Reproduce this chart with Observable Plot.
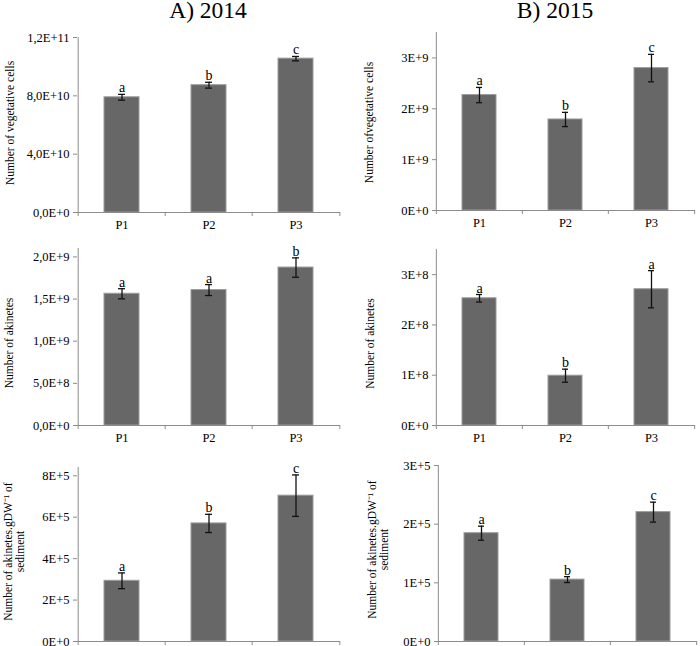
<!DOCTYPE html>
<html>
<head>
<meta charset="utf-8">
<script src="https://cdn.jsdelivr.net/npm/d3@7"></script>
<script src="https://cdn.jsdelivr.net/npm/@observablehq/plot@0.6"></script>
<style>
  html, body { margin: 0; padding: 0; background: #fff; }
  #chart { position: relative; width: 700px; height: 646px; overflow: hidden; background: #fff;
           font-family: "Liberation Serif", "Times New Roman", serif; }
  .panel { position: absolute; }
  .panel svg text { font-family: "Liberation Serif", "Times New Roman", serif; }
  .title { position: absolute; font-family: "Liberation Serif", serif; font-size: 23.5px; line-height: 0.9; color: #000; transform: translateX(-50%); white-space: nowrap; }
</style>
</head>
<body>
<div id="chart"></div>
<script>
// ---------- data ----------
const sites = ["P1", "P2", "P3"];
const columnTitles = ["A) 2014", "B) 2015"];

const veg2014 = [7.9e10, 8.73e10, 10.55e10];
const veg2014Err = [0.2e10, 0.2e10, 0.15e10];
const veg2014Letters = ["a", "b", "c"];

const veg2015 = [2.27e9, 1.79e9, 2.80e9];
const veg2015Err = [0.15e9, 0.14e9, 0.27e9];
const veg2015Letters = ["a", "b", "c"];

const aki2014 = [1.563e9, 1.607e9, 1.874e9];
const aki2014Err = [0.06e9, 0.065e9, 0.115e9];
const aki2014Letters = ["a", "a", "b"];

const aki2015 = [2.53e8, 0.99e8, 2.71e8];
const aki2015Err = [0.075e8, 0.13e8, 0.37e8];
const aki2015Letters = ["a", "b", "a"];

const sed2014 = [2.93e5, 5.70e5, 7.04e5];
const sed2014Err = [0.38e5, 0.44e5, 1.0e5];
const sed2014Letters = ["a", "b", "c"];

const sed2015 = [1.846e5, 1.055e5, 2.205e5];
const sed2015Err = [0.12e5, 0.05e5, 0.17e5];
const sed2015Letters = ["a", "b", "c"];

// axis maxima and tick labels
const yMax = [1.2e11, 3.5e9, 2.1e9, 3.5e8, 8.4e5, 3e5];

const veg2014Ticks = [0, 4e10, 8e10, 1.2e11];
const veg2014TickLabels = ["0,0E+0", "4,0E+10", "8,0E+10", "1,2E+11"];
const veg2015Ticks = [0, 1e9, 2e9, 3e9];
const veg2015TickLabels = ["0E+0", "1E+9", "2E+9", "3E+9"];
const aki2014Ticks = [0, 5e8, 1e9, 1.5e9, 2e9];
const aki2014TickLabels = ["0,0E+0", "5,0E+8", "1,0E+9", "1,5E+9", "2,0E+9"];
const aki2015Ticks = [0, 1e8, 2e8, 3e8];
const aki2015TickLabels = ["0E+0", "1E+8", "2E+8", "3E+8"];
const sed2014Ticks = [0, 2e5, 4e5, 6e5, 8e5];
const sed2014TickLabels = ["0E+0", "2E+5", "4E+5", "6E+5", "8E+5"];
const sed2015Ticks = [0, 1e5, 2e5, 3e5];
const sed2015TickLabels = ["0E+0", "1E+5", "2E+5", "3E+5"];

const yLabels = [
  "Number of vegetative cells",
  "Number ofvegetative cells",
  "Number of akinetes",
  "Number of akinetes",
  "Number of akinetes.gDW\u207B\u00B9 of\nsediment",
  "Number of akinetes.gDW\u207B\u00B9 of\nsediment"
];

// ---------- panels ----------
const FONT = "Liberation Serif, Times New Roman, serif";
const AXIS = "#8c8c8c";

const panels = [
  {vals: veg2014, err: veg2014Err, letters: veg2014Letters, ticks: veg2014Ticks, tickLabels: veg2014TickLabels, max: yMax[0], label: yLabels[0],
   left: 0, top: 0, width: 350, height: 240, ml: 77, mr: 10, mt: 37, mb: 28, showX: true, ldx: -67, ldy: -2},
  {vals: veg2015, err: veg2015Err, letters: veg2015Letters, ticks: veg2015Ticks, tickLabels: veg2015TickLabels, max: yMax[1], label: yLabels[1],
   left: 350, top: 0, width: 350, height: 240, ml: 86, mr: 5, mt: 32, mb: 30, showX: true, ldx: -67, ldy: 1},
  {vals: aki2014, err: aki2014Err, letters: aki2014Letters, ticks: aki2014Ticks, tickLabels: aki2014TickLabels, max: yMax[2], label: yLabels[2],
   left: 0, top: 215, width: 350, height: 240, ml: 77, mr: 10, mt: 33, mb: 30, showX: true, ldx: -68, ldy: 6},
  {vals: aki2015, err: aki2015Err, letters: aki2015Letters, ticks: aki2015Ticks, tickLabels: aki2015TickLabels, max: yMax[3], label: yLabels[3],
   left: 350, top: 215, width: 350, height: 240, ml: 86, mr: 5, mt: 34, mb: 30, showX: true, ldx: -66, ldy: 6},
  {vals: sed2014, err: sed2014Err, letters: sed2014Letters, ticks: sed2014Ticks, tickLabels: sed2014TickLabels, max: yMax[4], label: yLabels[4],
   left: 0, top: 430, width: 350, height: 216, ml: 77, mr: 10, mt: 37, mb: 5, showX: false, ldx: -63, ldy: -3},
  {vals: sed2015, err: sed2015Err, letters: sed2015Letters, ticks: sed2015Ticks, tickLabels: sed2015TickLabels, max: yMax[5], label: yLabels[5],
   left: 350, top: 430, width: 350, height: 216, ml: 88, mr: 3, mt: 35, mb: 5, showX: false, ldx: -60, ldy: -4}
];

const chart = document.getElementById("chart");

for (const p of panels) {
  const data = sites.map((s, i) => ({site: s, v: p.vals[i], e: p.err[i], letter: p.letters[i]}));
  const half = (p.width - p.ml - p.mr) / 3 / 2;
  const fmt = new Map(p.ticks.map((t, i) => [t, p.tickLabels[i]]));
  const marks = [
    Plot.barY(data, {x: "site", y: "v", fill: "#676767", stroke: "#9b9b9b", strokeWidth: 1}),
    Plot.ruleY([0], {stroke: AXIS, strokeWidth: 1}),
    Plot.ruleX([sites[0]], {dx: -half, y1: 0, y2: p.max, stroke: AXIS, strokeWidth: 1}),
    Plot.ruleX(sites, {dx: -half, y1: 0, y2: 0, insetBottom: -4, stroke: AXIS}),
    Plot.ruleX([sites[2]], {dx: half, y1: 0, y2: 0, insetBottom: -4, stroke: AXIS}),
    Plot.ruleX(data, {x: "site", y1: d => d.v - d.e, y2: d => d.v + d.e, stroke: "#111", strokeWidth: 1.3}),
    Plot.tickY(data, {x: "site", y: d => d.v + d.e, insetLeft: 14, insetRight: 14, stroke: "#111", strokeWidth: 1.3}),
    Plot.tickY(data, {x: "site", y: d => d.v - d.e, insetLeft: 14, insetRight: 14, stroke: "#111", strokeWidth: 1.3}),
    Plot.text(data, {x: "site", y: d => d.v + d.e, text: "letter", dy: -2, lineAnchor: "bottom", fontSize: 14, fontFamily: FONT, fill: "#000"}),
    Plot.axisY({ticks: p.ticks, tickFormat: d => fmt.get(d), tickSize: 4, tickPadding: 4, stroke: AXIS, fontSize: 12.5, fontFamily: FONT, label: null}),
    Plot.text([p.label], {frameAnchor: "left", text: d => d, rotate: -90, textAnchor: "middle", dx: p.ldx, dy: p.ldy, fontSize: 11.5, fontFamily: FONT, lineAnchor: "middle", lineHeight: 1.05, fill: "#000"})
  ];
  if (p.showX) {
    marks.push(Plot.axisX({tickSize: 0, tickPadding: 8, fontSize: 12.5, fontFamily: FONT, label: null}));
  }
  const svg = Plot.plot({
    width: p.width,
    height: p.height,
    marginLeft: p.ml,
    marginRight: p.mr,
    marginTop: p.mt,
    marginBottom: p.mb,
    x: {domain: sites, paddingInner: 0.6, paddingOuter: 0.3, axis: p.showX ? undefined : null},
    y: {domain: [0, p.max]},
    style: {background: "transparent", overflow: "visible", fontFamily: FONT, fontSize: "12.5px", color: "#000"},
    marks
  });
  // enlarge the axis tick labels (Excel-like 12.5px serif)
  const axisTexts = new Set([...p.tickLabels, ...sites]);
  d3.select(svg).selectAll("text").each(function () {
    if (axisTexts.has(this.textContent)) {
      this.style.fontSize = "12.5px";
      this.style.fontFamily = "Liberation Serif, serif";
    }
  });
  const wrap = document.createElement("div");
  wrap.className = "panel";
  wrap.style.left = p.left + "px";
  wrap.style.top = p.top + "px";
  wrap.appendChild(svg);
  chart.appendChild(wrap);
}

const titlePos = [[208, 0], [555, 0]];
columnTitles.forEach((t, i) => {
  const d = document.createElement("div");
  d.className = "title";
  d.textContent = t;
  d.style.left = titlePos[i][0] + "px";
  d.style.top = titlePos[i][1] + "px";
  chart.appendChild(d);
});
</script>
</body>
</html>
